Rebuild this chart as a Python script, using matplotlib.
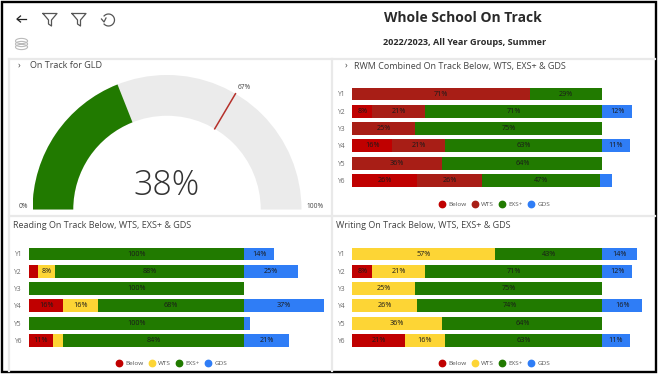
#!/usr/bin/env python3
# coding=utf-8
import numpy as np
import matplotlib
matplotlib.use("Agg")
import matplotlib.pyplot as plt
from matplotlib.lines import Line2D
from matplotlib.patches import Wedge, Rectangle

W, H = 659, 375

years = ["Y1", "Y2", "Y3", "Y4", "Y5", "Y6"]
series_names = ["Below", "WTS", "EXS+", "GDS"]

rwm_below = [0, 8, 0, 16, 0, 26]
rwm_wts = [71, 21, 25, 21, 36, 26]
rwm_exs = [29, 71, 75, 63, 64, 47]
rwm_gds = [0, 12, 0, 11, 0, 5]

read_below = [0, 4, 0, 16, 0, 11]
read_wts = [0, 8, 0, 16, 0, 5]
read_exs = [100, 88, 100, 68, 100, 84]
read_gds = [14, 25, 0, 37, 3, 21]

write_below = [0, 8, 0, 0, 0, 21]
write_wts = [57, 21, 25, 26, 36, 16]
write_exs = [43, 71, 75, 74, 64, 63]
write_gds = [14, 12, 0, 16, 0, 11]

gauge_value = 38
gauge_target = 67

RED = "#c00000"
DARKRED = "#a81e16"
YELLOW = "#fdd535"
GREEN = "#217a00"
BLUE = "#2f7df6"
GAUGE_BG = "#ebebeb"
TEXT = "#444444"
LINE = "#e9e9e9"

plt.rcParams["font.family"] = ["Open Sans", "DejaVu Sans"]

fig = plt.figure(figsize=(W / 100, H / 100), dpi=100, facecolor="white")


def px_axes(x0, y0, x1, y1, **kw):
    return fig.add_axes([x0 / W, 1 - y1 / H, (x1 - x0) / W, (y1 - y0) / H], **kw)


# page furniture, in pixel coordinates
bg = px_axes(0, 0, W, H)
bg.set_xlim(0, W)
bg.set_ylim(H, 0)
bg.axis("off")
bg.add_patch(Rectangle((1.7, 1.7), 654.5, 370.5, fill=False, ec="black", lw=1.7))
for xs, ys in [([9, 655], [58.5, 58.5]), ([9, 655], [216, 216]),
               ([332, 332], [59, 371]), ([9, 9], [59, 371])]:
    bg.plot(xs, ys, color=LINE, lw=1.6)

bg.text(463, 18.5, "Whole School On Track", ha="center", va="center",
        fontsize=10, fontweight="bold", color="#2a2a2a")
bg.text(465, 42.5, "2022/2023, All Year Groups, Summer", ha="center", va="center",
        fontsize=6.6, fontweight="bold", color="#2a2a2a")

# toolbar icons
ICON = "#555555"
bg.plot([17, 26], [19, 19], color="#222222", lw=0.9)
bg.plot([20.5, 17, 20.5], [16, 19, 22], color="#222222", lw=0.9)
for cx in (50, 79):
    bg.plot(np.array([-7, 7, 1.5, 1.5, -1.5, -1.5, -7]) + cx,
            [13.5, 13.5, 20, 26, 24, 20, 13.5], color=ICON, lw=0.9)
t = np.linspace(-2.4, 2.4, 30)
bg.plot(108.5 + 6 * np.cos(t), 20 + 6 * np.sin(t), color=ICON, lw=0.9)
bg.plot([101.5, 104, 106], [19, 22, 18], color=ICON, lw=0.9)
t = np.linspace(0, 2 * np.pi, 40)
for dy in (0, 3, 6):
    bg.plot(21.5 + 6 * np.cos(t), 41 + dy + 2.6 * np.sin(t), color="#bbbbbb", lw=0.8)

# panel titles
for x, y, s in [(30.5, 66, "On Track for GLD"),
                (354, 66, "RWM Combined On Track Below, WTS, EXS+ & GDS"),
                (13, 226, "Reading On Track Below, WTS, EXS+ & GDS"),
                (336, 226, "Writing On Track Below, WTS, EXS+ & GDS")]:
    bg.text(x, y, s, ha="left", va="center", fontsize=6.5, color=TEXT)
for x in (19.5, 346):
    bg.text(x, 65.5, "›", ha="center", va="center", fontsize=6.5, color=TEXT)

# gauge
g = px_axes(32.5, 75, 301.5, 209.5)
g.set_xlim(-1, 1)
g.set_ylim(0, 1)
g.axis("off")


def pct_angle(p):
    return 180 * (1 - p / 100)


inner = 0.697
g.add_patch(Wedge((0, 0), 1, 0, 180, width=1 - inner, fc=GAUGE_BG, ec="none"))
g.add_patch(Wedge((0, 0), 1, pct_angle(gauge_value), 180, width=1 - inner, fc=GREEN, ec="none"))
a = np.radians(pct_angle(gauge_target))
g.plot([inner * np.cos(a), np.cos(a)], [inner * np.sin(a), np.sin(a)], color="#b5302a", lw=1.1)
g.text(np.cos(a) + 0.065, np.sin(a) + 0.045, f"{gauge_target}%", ha="center", va="center",
       fontsize=4.8, color=TEXT)
g.text(0, 0.18, f"{gauge_value}%", ha="center", va="center", fontsize=24.5,
       fontweight="light", color="#333333")
bg.text(23, 207, "0%", ha="center", va="center", fontsize=4.8, color=TEXT)
bg.text(315, 207, "100%", ha="center", va="center", fontsize=4.8, color=TEXT)


def stacked(x0, x100, y_first, below, wts, exs, gds, wts_color, legend_x, legend_y, x_end):
    # one pixel row pitch of 17.3, bars take 13 of it
    pitch = 17.3
    scale = (x100 - x0) / 100
    ax = px_axes(x0, y_first - pitch / 2, x_end, y_first + 5.5 * pitch)
    ax.set_xlim(0, (x_end - x0) / scale)
    ax.set_ylim(5.5, -0.5)
    for s in ax.spines.values():
        s.set_visible(False)
    ax.set_xticks([])
    ax.set_yticks(range(len(years)), years)
    ax.tick_params(axis="y", length=0, pad=5, labelsize=4.8, labelcolor="#666666")
    colors = [RED, wts_color, GREEN, BLUE]
    left = np.zeros(len(years))
    for vals, c in zip([below, wts, exs, gds], colors):
        vals = np.array(vals, dtype=float)
        ax.barh(range(len(years)), vals, left=left, height=0.75, color=c)
        for i, v in enumerate(vals):
            if v >= 8:
                ax.text(left[i] + v / 2, i, f"{int(v)}%", ha="center", va="center",
                        fontsize=5.2, color="#1a1a1a")
        left = left + vals
    handles = [Line2D([], [], ls="none", marker="o", ms=4.6, color=c) for c in colors]
    fig.legend(handles, series_names, loc="center", frameon=False, ncol=4, fontsize=4.6,
               labelcolor="#555555", handletextpad=0.0, columnspacing=0.3, borderpad=0,
               bbox_to_anchor=(legend_x / W, 1 - legend_y / H))


stacked(352.3, 602.3, 94, rwm_below, rwm_wts, rwm_exs, rwm_gds, DARKRED, 493, 204.5, 652)
stacked(29, 244, 254, read_below, read_wts, read_exs, read_gds, YELLOW, 170, 363.5, 329)
stacked(352.3, 602.3, 254, write_below, write_wts, write_exs, write_gds, YELLOW, 493, 363.5, 652)

fig.savefig("out.png", dpi=100, facecolor="white")
